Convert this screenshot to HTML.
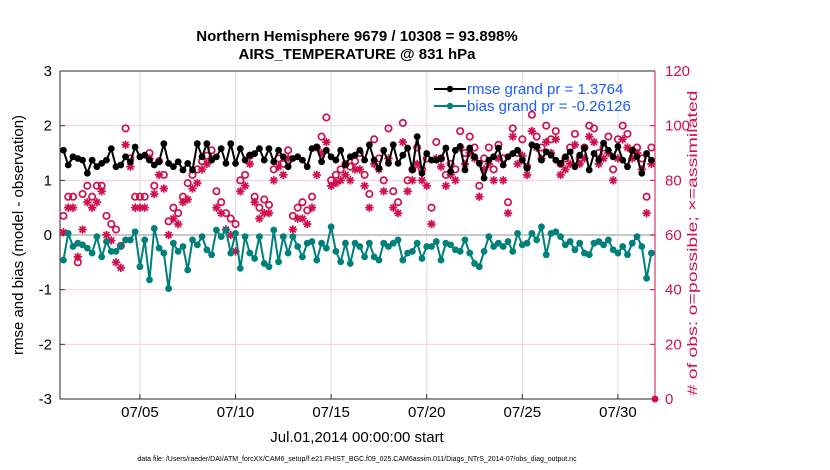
<!DOCTYPE html>
<html><head><meta charset="utf-8"><style>
body{margin:0;background:#fff;}
svg{display:block;font-family:"Liberation Sans",sans-serif;}
</style></head><body>
<svg id="c" width="830" height="470" xmlns="http://www.w3.org/2000/svg">
<text x="357" y="41" text-anchor="middle" font-size="15" font-weight="bold">Northern Hemisphere 9679 / 10308 = 93.898%</text>
<text x="357" y="59" text-anchor="middle" font-size="15" font-weight="bold">AIRS_TEMPERATURE @ 831 hPa</text>
<text transform="translate(23,235) rotate(-90)" text-anchor="middle" font-size="15">rmse and bias (model - observation)</text>
<text transform="translate(697,243) rotate(-90)" text-anchor="middle" font-size="14" textLength="305" lengthAdjust="spacingAndGlyphs" fill="#d0104c"># of obs: o=possible; ×=assimilated</text>
<text x="357" y="442" text-anchor="middle" font-size="15">Jul.01,2014 00:00:00 start</text>
<text x="357" y="461" text-anchor="middle" font-size="7">data file: /Users/raeder/DAI/ATM_forcXX/CAM6_setup/f.e21.FHIST_BGC.f09_025.CAM6assim.011/Diags_NTrS_2014-07/obs_diag_output.nc</text>
<g id="grid"></g><g id="axes"></g><g id="marks"></g><g id="legend"></g>
</svg>
<script>
const rmse=[1.55,1.28,1.43,1.40,1.37,1.13,1.37,1.25,1.31,1.37,1.58,1.25,1.28,1.43,1.34,1.61,1.43,1.46,1.37,1.28,1.34,1.67,1.31,1.25,1.34,1.19,1.31,1.19,1.67,1.43,1.67,1.37,1.43,1.58,1.31,1.67,1.31,1.58,1.37,1.46,1.49,1.58,1.37,1.58,1.34,1.55,1.43,1.25,1.40,1.43,1.37,1.25,1.58,1.61,1.34,1.55,1.43,1.37,1.55,1.28,1.43,1.46,
1.55,1.37,1.65,1.37,1.22,1.55,1.31,1.65,1.31,1.46,1.59,1.19,1.80,1.13,1.49,1.37,1.37,1.40,1.59,1.16,1.55,1.62,1.19,1.59,1.43,1.31,1.04,1.37,1.43,1.59,1.28,1.43,1.49,1.55,1.37,1.22,1.65,1.62,1.37,1.52,1.46,1.37,1.31,1.43,1.52,1.25,1.46,1.59,1.19,1.49,1.37,1.68,1.55,1.43,1.62,1.37,1.25,1.55,1.43,1.13,1.49,1.37];
const bias=[-0.46,0.03,-0.21,-0.15,-0.18,-0.24,-0.33,-0.03,-0.40,-0.12,-0.30,-0.30,-0.21,-0.09,-0.09,0.06,-0.58,-0.09,-0.82,0.12,-0.24,-0.33,-0.98,-0.15,-0.30,-0.21,-0.64,-0.09,-0.18,-0.03,-0.27,-0.36,0.09,-0.03,0.09,-0.33,0.03,-0.61,-0.03,-0.33,-0.43,-0.03,-0.52,-0.58,0.09,-0.49,-0.03,-0.33,-0.03,-0.21,-0.40,-0.15,-0.12,-0.46,-0.15,-0.24,0.15,-0.30,-0.49,-0.15,-0.52,-0.15,
-0.21,-0.40,-0.15,-0.40,-0.46,-0.15,-0.21,-0.15,-0.09,-0.46,-0.33,-0.30,-0.15,-0.43,-0.21,-0.21,-0.12,-0.46,-0.15,-0.18,-0.27,-0.30,-0.09,-0.33,-0.52,-0.58,-0.30,-0.03,-0.21,-0.15,-0.21,-0.12,-0.30,0.03,-0.18,-0.15,0.03,-0.09,0.15,-0.36,0.03,0.06,-0.03,-0.18,-0.12,-0.27,-0.15,-0.33,-0.36,-0.15,-0.12,-0.18,-0.09,-0.27,-0.33,-0.21,-0.36,-0.15,-0.03,-0.21,-0.79,-0.33];
const possible=[67,74,74,50,75,78,74,78,78,67,64,62,56,99,88,74,74,74,90,78,87,82,65,70,68,74,79,82,84,87,89,91,76,72,68,66,64,80,82,89,74,70,73,71,84,88,86,91,67,70,72,69,74,92,96,103,80,82,84,86,85,87,
90,82,75,95,88,80,99,76,72,101,80,84,92,84,88,70,94,88,82,86,84,98,90,96,92,78,88,92,84,93,88,72,99,90,95,85,104,96,92,100,95,98,86,88,92,97,88,92,100,99,90,92,96,84,95,100,97,91,92,88,74,92];
const assimilated=[61,70,70,52,62,72,70,72,76,60,58,50,48,93,85,70,70,70,88,75,82,77,60,66,64,72,73,77,79,84,86,88,70,68,62,60,54,76,78,86,72,66,68,68,80,85,82,88,62,66,66,64,70,82,90,94,78,79,80,82,80,84,
84,78,70,86,84,76,88,70,68,94,76,80,86,80,78,64,88,85,78,82,80,92,86,90,88,74,84,86,80,88,80,68,96,86,89,82,98,92,88,94,90,95,82,84,86,93,86,88,96,94,86,88,90,80,88,95,92,88,90,84,68,86];
const xTickDays=[4,9,14,19,24,29];
const xTickLabels=["07/05","07/10","07/15","07/20","07/25","07/30"];
const leftTicks=[3,2,1,0,-1,-2,-3];
const rightTicks=[120,100,80,60,40,20,0];
const stepDays=0.25;

const NS="http://www.w3.org/2000/svg";
const L=60,R=655,T=71,B=399;
const xs=t=>L+(t+0.18)*19.12;
const yl=v=>T+(3-v)/6*(B-T);
const yr=v=>B-v/120*(B-T);
function mk(tag,attrs,parent){const e=document.createElementNS(NS,tag);for(const k in attrs)e.setAttribute(k,attrs[k]);parent.appendChild(e);return e;}
const grid=document.getElementById('grid'),axes=document.getElementById('axes'),marks=document.getElementById('marks'),leg=document.getElementById('legend');
mk('rect',{x:L,y:T,width:R-L,height:B-T,fill:'#fff'},grid);
xTickDays.forEach((d,i)=>{
  const g=mk('line',{x1:xs(d),x2:xs(d),y1:T,y2:B,stroke:'#dcdcdc','stroke-width':1},grid);
  
  
  const t=mk('text',{x:xs(d),y:B+18,'text-anchor':'middle','font-size':15},axes);
  t.textContent=xTickLabels[i];
  
  
  mk('line',{x1:xs(d),x2:xs(d),y1:B,y2:B-5,stroke:'#333'},axes);
});
rightTicks.forEach(v=>{
  if(v>0&&v<120){const g=mk('line',{x1:L,x2:R,y1:yr(v),y2:yr(v),stroke:v==60?'#c8c8c8':'#f2d0dc','stroke-width':v==60?2:1},grid);
  
  }
  const t=mk('text',{x:R+10,y:yr(v)+5,'font-size':15,fill:'#d0104c'},axes);
  t.textContent=v;
  
  
  mk('line',{x1:R,x2:R-5,y1:yr(v),y2:yr(v),stroke:'#d0104c'},axes);
});
leftTicks.forEach(v=>{
  const t=mk('text',{x:L-8,y:yl(v)+5,'font-size':15,'text-anchor':'end'},axes);
  t.textContent=v;
  
  
  mk('line',{x1:L,x2:L+5,y1:yl(v),y2:yl(v),stroke:'#333'},axes);
});
mk('line',{x1:L,x2:L,y1:T,y2:B,stroke:'#262626'},axes);
mk('line',{x1:L,x2:R,y1:B,y2:B,stroke:'#262626'},axes);
mk('line',{x1:L,x2:R,y1:T,y2:T,stroke:'#262626'},axes);
mk('line',{x1:R,x2:R,y1:T,y2:B,stroke:'#d0104c'},axes);

function star(x,y,p){const r=4.2;for(let a=0;a<4;a++){const an=a*Math.PI/4;mk('line',{x1:x-r*Math.cos(an),y1:y-r*Math.sin(an),x2:x+r*Math.cos(an),y2:y+r*Math.sin(an),stroke:'#d0104c','stroke-width':1.7},p);}}
const gA=mk('g',{},marks);
assimilated.forEach((v,i)=>star(xs(i*stepDays),yr(v),gA));
const gP=mk('g',{},marks);
possible.forEach((v,i)=>{mk('circle',{cx:xs(i*stepDays),cy:yr(v),r:3.2,fill:'none',stroke:'#d0104c','stroke-width':1.7},gP);});
const endDot=mk('circle',{cx:R,cy:B,r:3.5,fill:'#d0104c'},marks);


function series(arr,col,name){
  const g=mk('g',{},marks);
  
  
  mk('polyline',{points:arr.map((v,i)=>xs(i*stepDays)+','+yl(v)).join(' '),fill:'none',stroke:col,'stroke-width':2},g);
  arr.forEach((v,i)=>mk('circle',{cx:xs(i*stepDays),cy:yl(v),r:3.4,fill:col},g));
}
series(bias,'#00807a','bias-series');
series(rmse,'#000','rmse-series');
[['rmse grand pr = 1.3764','#000',94,'legend-entry-rmse'],['bias grand pr = -0.26126','#00807a',111,'legend-entry-bias']].forEach(d=>{
  const g=mk('g',{},leg);
  
  
  mk('line',{x1:434,x2:466,y1:d[2]-5,y2:d[2]-5,stroke:d[1],'stroke-width':2},g);
  mk('circle',{cx:450,cy:d[2]-5,r:3.2,fill:d[1]},g);
  const t=mk('text',{x:467,y:d[2],'font-size':15,fill:'#1a5cff'},g);t.textContent=d[0];
});
</script>
</body></html>
